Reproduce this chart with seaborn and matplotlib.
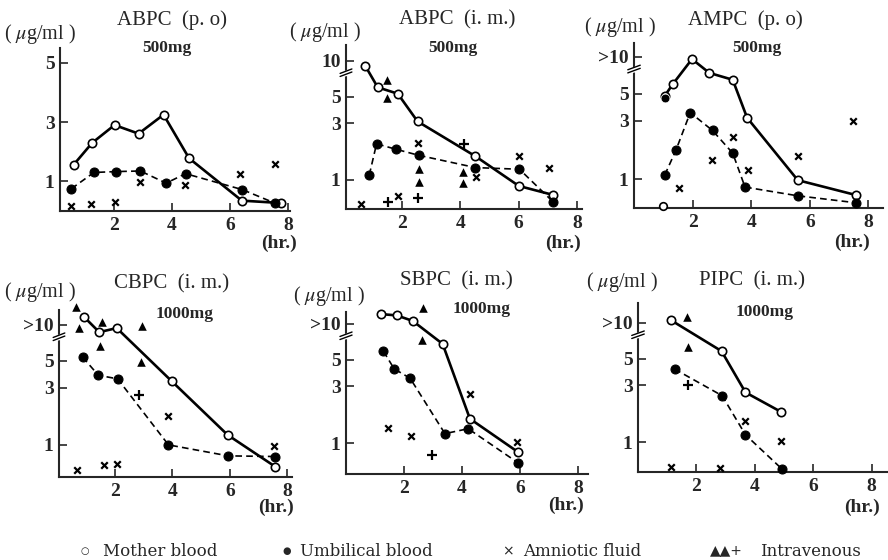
import matplotlib
matplotlib.use("Agg")
import matplotlib.pyplot as plt
import seaborn as sns
from matplotlib.ticker import NullLocator

# ---- data (hr., ug/ml) ----
# ABPC (p.o) 500mg
abpc_po_mother_x = [0.61, 1.25, 2.02, 2.85, 3.71, 4.59, 6.41, 7.75]
abpc_po_mother_y = [1.56, 2.30, 2.90, 2.61, 3.25, 1.78, 0.35, 0.27]
abpc_po_umb_x = [0.53, 1.31, 2.06, 2.91, 3.80, 4.47, 6.43, 7.54]
abpc_po_umb_y = [0.75, 1.30, 1.33, 1.35, 0.94, 1.26, 0.72, 0.27]
abpc_po_amn_x = [0.51, 1.22, 2.02, 2.91, 4.46, 6.33, 7.57]
abpc_po_amn_y = [0.18, 0.25, 0.32, 0.97, 0.89, 1.25, 1.57]

# ABPC (i.m.) 500mg
abpc_im_mother_x = [0.73, 1.16, 1.85, 2.53, 4.52, 6.01, 7.17]
abpc_im_mother_y = [9.1, 6.0, 5.3, 3.1, 1.58, 0.89, 0.75]
abpc_im_umb_x = [0.87, 1.12, 1.79, 2.57, 4.52, 6.03, 7.20]
abpc_im_umb_y = [1.10, 2.01, 1.81, 1.61, 1.27, 1.23, 0.65]
abpc_im_amn_x = [0.57, 1.86, 2.55, 4.55, 6.01, 7.06]
abpc_im_amn_y = [0.63, 0.73, 2.04, 1.05, 1.58, 1.27]
abpc_im_tri_x = [1.48, 1.48, 2.57, 2.57, 4.10, 4.10]
abpc_im_tri_y = [6.9, 4.9, 1.23, 0.97, 1.17, 0.95]
abpc_im_plus_x = [1.52, 2.55, 4.12]
abpc_im_plus_y = [0.65, 0.71, 2.01]

# AMPC (p.o) 500mg
ampc_mother_x = [1.05, 1.32, 1.98, 2.57, 3.37, 3.86, 5.59, 7.58]
ampc_mother_y = [4.8, 5.97, 9.6, 7.4, 6.5, 3.18, 0.98, 0.74]
ampc_umb_x = [1.05, 1.43, 1.92, 2.68, 3.37, 3.79, 5.59, 7.58]
ampc_umb_y = [1.08, 1.72, 3.5, 2.5, 1.63, 0.86, 0.73, 0.64]
ampc_umb_extra_x = [1.05]
ampc_umb_extra_y = [4.6]
ampc_mother_extra_x = [1.0]
ampc_mother_extra_y = [0.6]
ampc_amn_x = [1.54, 2.65, 3.37, 3.88, 5.61, 7.47]
ampc_amn_y = [0.85, 1.44, 2.2, 1.19, 1.56, 2.99]

# CBPC (i.m.) 1000mg
cbpc_mother_x = [0.93, 1.45, 2.06, 3.97, 5.92, 7.57]
cbpc_mother_y = [11.6, 8.7, 9.4, 3.4, 1.21, 0.66]
cbpc_umb_x = [0.87, 1.42, 2.09, 3.86, 5.94, 7.57]
cbpc_umb_y = [5.4, 3.8, 3.55, 1.0, 0.81, 0.80]
cbpc_amn_x = [0.69, 1.62, 2.08, 3.86, 7.55]
cbpc_amn_y = [0.62, 0.68, 0.69, 1.74, 0.97]
cbpc_tri_x = [0.64, 0.75, 1.56, 1.48, 2.93, 2.89]
cbpc_tri_y = [14.0, 9.4, 10.5, 6.7, 9.7, 4.95]
cbpc_plus_x = [2.85]
cbpc_plus_y = [2.61]

# SBPC (i.m.) 1000mg
sbpc_mother_x = [1.20, 1.75, 2.30, 3.33, 4.27, 5.93]
sbpc_mother_y = [12.1, 11.8, 10.6, 6.8, 1.60, 0.84]
sbpc_umb_x = [1.29, 1.66, 2.21, 3.41, 4.21, 5.94]
sbpc_umb_y = [5.9, 4.2, 3.5, 1.20, 1.32, 0.68]
sbpc_amn_x = [1.44, 2.23, 4.29, 5.91]
sbpc_amn_y = [1.35, 1.14, 2.57, 1.02]
sbpc_tri_x = [2.64, 2.63]
sbpc_tri_y = [13.7, 7.4]
sbpc_plus_x = [2.95]
sbpc_plus_y = [0.79]

# PIPC (i.m.) 1000mg
pipc_mother_x = [1.14, 2.86, 3.68, 4.90]
pipc_mother_y = [10.5, 5.8, 2.61, 1.79]
pipc_umb_x = [1.25, 2.88, 3.68, 4.94]
pipc_umb_y = [4.1, 2.45, 1.15, 0.59]
pipc_amn_x = [1.14, 2.82, 3.68, 4.90]
pipc_amn_y = [0.62, 0.61, 1.51, 1.01]
pipc_tri_x = [1.68, 1.71]
pipc_tri_y = [11.2, 6.3]
pipc_plus_x = [1.71]
pipc_plus_y = [2.99]

W, H = 888, 560


def px(x, y):
    return x / W, 1 - y / H


sns.set_style("ticks")
plt.rcParams['font.family'] = ['Liberation Serif', 'DejaVu Sans']
plt.rcParams['mathtext.fontset'] = 'stix'

fig = plt.figure(figsize=(W / 100, H / 100), dpi=100)


def make_ax(l, t, r, b):
    return fig.add_axes([l / W, 1 - b / H, (r - l) / W, (b - t) / H])


def draw(ax, mx, my, ux, uy, ax_, ay_, tx=None, ty=None, qx=None, qy=None):
    sns.lineplot(x=mx, y=my, ax=ax, color='k', lw=1.9, marker='o', markersize=6,
                 markerfacecolor='white', markeredgecolor='k', markeredgewidth=1.2,
                 estimator=None, sort=False, zorder=3, clip_on=False)
    sns.lineplot(x=ux, y=uy, ax=ax, color='k', lw=1.2, linestyle=(0, (4, 2.5)),
                 marker='o', markersize=6.5, markerfacecolor='k', markeredgecolor='k',
                 estimator=None, sort=False, zorder=3, clip_on=False)
    sns.scatterplot(x=ax_, y=ay_, ax=ax, marker='x', color='k', s=22, linewidth=1.6,
                    zorder=4, clip_on=False)
    if tx is not None:
        sns.scatterplot(x=tx, y=ty, ax=ax, marker='^', color='k', s=38, linewidth=0,
                        zorder=4, clip_on=False)
    if qx is not None:
        sns.scatterplot(x=qx, y=qy, ax=ax, marker='+', color='k', s=50, linewidth=1.6,
                        zorder=4, clip_on=False)


def style(ax, xlim, ylim, log=True, top_label='>10'):
    ax.set_xlim(*xlim)
    if log:
        ax.set_yscale('log')
        ax.set_yticks([1, 3, 5, 10])
        ax.set_yticklabels(['1', '3', '5', top_label])
        ax.yaxis.set_minor_locator(NullLocator())
        # axis break marks between 5 and 10
        tr = ax.get_yaxis_transform()
        ax.plot([-0.03, 0.03], [7.6, 8.1], transform=tr, color='white', lw=4,
                clip_on=False, zorder=5, solid_capstyle='butt')
        for y0 in (7.4, 7.85):
            ax.plot([-0.025, 0.025], [y0, y0 * 1.09], transform=tr, color='k', lw=1.0,
                    clip_on=False, zorder=6)
    else:
        ax.set_yticks([1, 3, 5])
        ax.set_yticklabels(['1', '3', '5'])
    ax.set_ylim(*ylim)
    ax.set_xticks([2, 4, 6, 8])
    ax.set_xlabel('')
    ax.set_ylabel('')
    ax.tick_params(direction='in', length=6, width=1.2, labelsize=14, pad=4)
    for lab in ax.get_xticklabels() + ax.get_yticklabels():
        lab.set_fontweight('bold')
    sns.despine(ax=ax)
    for s in ('left', 'bottom'):
        ax.spines[s].set_linewidth(1.5)
    ax.patch.set_alpha(0)


# panel 1
ax1 = make_ax(60, 48, 290, 211)
draw(ax1, abpc_po_mother_x, abpc_po_mother_y, abpc_po_umb_x, abpc_po_umb_y,
     abpc_po_amn_x, abpc_po_amn_y)
style(ax1, (0.14, 8.07), (0.0, 5.5), log=False)

# panel 2
ax2 = make_ax(346, 45, 582, 209)
draw(ax2, abpc_im_mother_x, abpc_im_mother_y, abpc_im_umb_x, abpc_im_umb_y,
     abpc_im_amn_x, abpc_im_amn_y, abpc_im_tri_x, abpc_im_tri_y, abpc_im_plus_x, abpc_im_plus_y)
style(ax2, (0.07, 8.18), (0.57, 13.6), top_label='10')

# panel 3
ax3 = make_ax(634, 43, 883, 208)
draw(ax3, ampc_mother_x, ampc_mother_y, ampc_umb_x, ampc_umb_y, ampc_amn_x, ampc_amn_y)
sns.scatterplot(x=ampc_umb_extra_x, y=ampc_umb_extra_y, ax=ax3, color='k', s=40, zorder=5)
sns.scatterplot(x=ampc_mother_extra_x, y=ampc_mother_extra_y, ax=ax3, facecolor='white',
                edgecolor='k', linewidth=1.2, s=30, zorder=5, clip_on=False)
style(ax3, (0.0, 8.5), (0.58, 13.0))

# panel 4
ax4 = make_ax(59, 310, 292, 477)
draw(ax4, cbpc_mother_x, cbpc_mother_y, cbpc_umb_x, cbpc_umb_y, cbpc_amn_x, cbpc_amn_y,
     cbpc_tri_x, cbpc_tri_y, cbpc_plus_x, cbpc_plus_y)
style(ax4, (0.05, 8.16), (0.54, 13.3))

# panel 5
ax5 = make_ax(346, 312, 588, 474)
draw(ax5, sbpc_mother_x, sbpc_mother_y, sbpc_umb_x, sbpc_umb_y, sbpc_amn_x, sbpc_amn_y,
     sbpc_tri_x, sbpc_tri_y, sbpc_plus_x, sbpc_plus_y)
style(ax5, (0.0, 8.34), (0.55, 12.6))

# panel 6
ax6 = make_ax(638, 303, 888, 472)
draw(ax6, pipc_mother_x, pipc_mother_y, pipc_umb_x, pipc_umb_y, pipc_amn_x, pipc_amn_y,
     pipc_tri_x, pipc_tri_y, pipc_plus_x, pipc_plus_y)
style(ax6, (0.0, 8.56), (0.56, 14.7))

# titles, doses, units, axis labels
titles = [('ABPC  (p. o)', 172, 20, '500mg', 167, 48, 40, 34, 279, 243),
          ('ABPC  (i. m.)', 457, 20, '500mg', 453, 48, 325, 32, 563, 243),
          ('AMPC  (p. o)', 745, 20, '500mg', 757, 48, 620, 27, 852, 242),
          ('CBPC  (i. m.)', 172, 284, '1000mg', 185, 314, 40, 292, 276, 507),
          ('SBPC  (i. m.)', 456, 281, '1000mg', 482, 309, 329, 296, 566, 505),
          ('PIPC  (i. m.)', 752, 281, '1000mg', 765, 312, 622, 282, 862, 507)]
for t, tx, ty, d, dx, dy, ux, uy, hx, hy in titles:
    fig.text(*px(tx, ty), t, ha='center', va='center', fontsize=15)
    fig.text(*px(dx, dy), d, ha='center', va='center', fontsize=12.5, fontweight='bold')
    fig.text(*px(ux, uy), '( $\\mu$g/ml )', ha='center', va='center', fontsize=14.5)
    fig.text(*px(hx, hy), '(hr.)', ha='center', va='center', fontsize=14, fontweight='bold')

# legend
leg_font = dict(ha='left', va='center', fontsize=12, family='DejaVu Serif')
fig.text(*px(85, 551), '○', ha='center', va='center', fontsize=7, family='DejaVu Sans')
fig.text(*px(103, 551), 'Mother blood', **leg_font)
fig.text(*px(287, 551), '●', ha='center', va='center', fontsize=7, family='DejaVu Sans')
fig.text(*px(300, 551), 'Umbilical blood', **leg_font)
fig.text(*px(508, 551), '×', ha='center', va='center', fontsize=10, family='DejaVu Sans')
fig.text(*px(523, 551), 'Amniotic fluid', **leg_font)
fig.text(*px(726, 550), '▲▲+', ha='center', va='center', fontsize=10, family='DejaVu Sans')
fig.text(*px(760, 551), 'Intravenous', **leg_font)

fig.savefig('out.png', dpi=100)
